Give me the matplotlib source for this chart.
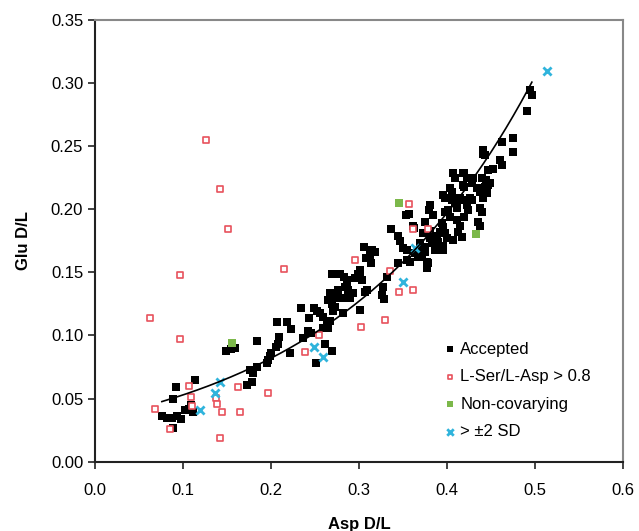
import numpy as np
import matplotlib
matplotlib.use('Agg')
import matplotlib.pyplot as plt

plt.rcParams['font.family'] = ['Liberation Sans', 'DejaVu Sans']

# Accepted samples (Asp D/L, Glu D/L)
acc_x = [0.076, 0.082, 0.0875, 0.093, 0.098, 0.089, 0.092, 0.089, 0.114, 0.102,
         0.107, 0.111, 0.109, 0.149, 0.1545, 0.159, 0.173, 0.178, 0.176, 0.1795,
         0.184, 0.1966, 0.199, 0.200, 0.1955, 0.2057, 0.208, 0.209, 0.207, 0.218,
         0.223, 0.2216, 0.184, 0.234, 0.243, 0.242, 0.2455, 0.249, 0.252, 0.2557,
         0.259, 0.259, 0.261, 0.251, 0.236, 0.269, 0.265, 0.2636, 0.267, 0.269,
         0.278, 0.283, 0.267, 0.265, 0.269, 0.2727, 0.276, 0.2727, 0.2705, 0.275,
         0.2807, 0.282, 0.284, 0.2864, 0.2875, 0.290, 0.293, 0.2955, 0.299, 0.301,
         0.309, 0.301, 0.3034, 0.3057, 0.315, 0.318, 0.3125, 0.308, 0.3136, 0.336,
         0.344, 0.3466, 0.353, 0.350, 0.3545, 0.344, 0.332, 0.327, 0.3545, 0.326,
         0.3284, 0.307, 0.357, 0.381, 0.3795, 0.384, 0.361, 0.375, 0.381, 0.384,
         0.3886, 0.390, 0.3955, 0.398, 0.401, 0.403, 0.394, 0.3955, 0.392, 0.398,
         0.400, 0.403, 0.4057, 0.407, 0.409, 0.420, 0.4227, 0.418, 0.4057, 0.409,
         0.411, 0.415, 0.417, 0.411, 0.415, 0.4125, 0.417, 0.407, 0.428, 0.4295,
         0.434, 0.4375, 0.440, 0.426, 0.428, 0.4227, 0.424, 0.420, 0.4375, 0.440,
         0.441, 0.445, 0.4466, 0.441, 0.435, 0.4375, 0.373, 0.381, 0.383, 0.390,
         0.3955, 0.369, 0.375, 0.494, 0.4966, 0.491, 0.475, 0.475, 0.4625, 0.441,
         0.443, 0.460, 0.4625, 0.452, 0.4466, 0.440, 0.443, 0.4455, 0.449, 0.418,
         0.420, 0.398, 0.392, 0.3955, 0.386, 0.375, 0.3716, 0.3784, 0.377, 0.3636,
         0.367, 0.3625, 0.358, 0.3716, 0.377, 0.301, 0.2864, 0.251, 0.269]
acc_y = [0.036, 0.035, 0.035, 0.036, 0.034, 0.027, 0.059, 0.050, 0.065, 0.041,
         0.042, 0.039, 0.045, 0.0876, 0.089, 0.090, 0.0607, 0.063, 0.0725, 0.070,
         0.075, 0.0805, 0.0836, 0.086, 0.078, 0.0907, 0.093, 0.0987, 0.1105, 0.1105,
         0.105, 0.086, 0.0955, 0.1216, 0.1137, 0.1034, 0.1018, 0.1216, 0.119, 0.1176,
         0.1145, 0.1058, 0.093, 0.078, 0.0979, 0.0876, 0.1058, 0.1105, 0.1113, 0.1485,
         0.149, 0.146, 0.1335, 0.128, 0.1248, 0.1295, 0.1358, 0.1224, 0.119, 0.1335,
         0.130, 0.1176, 0.138, 0.141, 0.1358, 0.130, 0.1335, 0.1453, 0.149, 0.120,
         0.1358, 0.146, 0.1437, 0.170, 0.1675, 0.166, 0.1635, 0.161, 0.157, 0.184,
         0.1786, 0.1746, 0.195, 0.169, 0.1675, 0.157, 0.146, 0.138, 0.1596, 0.132,
         0.129, 0.134, 0.196, 0.203, 0.199, 0.195, 0.187, 0.190, 0.183, 0.179,
         0.178, 0.174, 0.211, 0.1975, 0.199, 0.1936, 0.189, 0.1857, 0.1817, 0.181,
         0.177, 0.2165, 0.2134, 0.2284, 0.225, 0.2284, 0.225, 0.219, 0.207, 0.2046,
         0.2006, 0.209, 0.207, 0.191, 0.187, 0.1817, 0.178, 0.1754, 0.2204, 0.225,
         0.217, 0.2134, 0.2165, 0.209, 0.207, 0.203, 0.199, 0.1936, 0.2006, 0.1975,
         0.2085, 0.2227, 0.219, 0.244, 0.1896, 0.187, 0.181, 0.177, 0.173, 0.170,
         0.171, 0.173, 0.170, 0.294, 0.290, 0.278, 0.256, 0.245, 0.253, 0.2466,
         0.2426, 0.2386, 0.2347, 0.232, 0.2307, 0.225, 0.2173, 0.213, 0.2204, 0.2284,
         0.2173, 0.209, 0.1675, 0.168, 0.1675, 0.166, 0.162, 0.157, 0.153, 0.165,
         0.162, 0.185, 0.158, 0.1675, 0.158, 0.1517, 0.1437, 0.078, 0.0876]

# L-Ser/L-Asp > 0.8
ser_x = [0.0625, 0.0966, 0.0966, 0.126, 0.1417, 0.1508, 0.068, 0.085, 0.107, 0.109,
         0.110, 0.1375, 0.1386, 0.144, 0.142, 0.1625, 0.1648, 0.1966, 0.2148, 0.2955,
         0.302, 0.2386, 0.2545, 0.3295, 0.357, 0.361, 0.378, 0.335, 0.345, 0.361]
ser_y = [0.1135, 0.148, 0.0968, 0.255, 0.216, 0.184, 0.0417, 0.0259, 0.060, 0.0512,
         0.0441, 0.0504, 0.0457, 0.0393, 0.0188, 0.0591, 0.0393, 0.0544, 0.1524, 0.160,
         0.107, 0.0868, 0.1002, 0.112, 0.204, 0.184, 0.184, 0.151, 0.134, 0.136]

# Non-covarying
nc_x = [0.1557, 0.345, 0.433]
nc_y = [0.0939, 0.2045, 0.180]

# > +-2 SD
sd_x = [0.119, 0.136, 0.142, 0.249, 0.259, 0.3636, 0.350, 0.5136]
sd_y = [0.041, 0.0544, 0.063, 0.0907, 0.0828, 0.169, 0.142, 0.309]

ax_x = np.array(acc_x)
ax_y = np.array(acc_y)

fig = plt.figure(figsize=(6.39, 5.31), dpi=100, facecolor='white')
ax = fig.add_axes([0.1487, 0.1305, 0.826, 0.8324])

ax.scatter(acc_x, acc_y, s=28, marker='s', c='black', linewidths=0, label='Accepted', zorder=3)
ax.scatter(ser_x, ser_y, s=20, marker='s', facecolors='white', edgecolors='#e8525c',
           linewidths=1.2, label='L-Ser/L-Asp > 0.8', zorder=3)
ax.scatter(nc_x, nc_y, s=26, marker='s', c='#7cb84a', linewidths=0, label='Non-covarying', zorder=3)
ax.scatter(sd_x, sd_y, s=34, marker='x', c='#30b4dc', linewidths=2.0, label='> \u00b12 SD', zorder=4)

# exponential trendline fitted to accepted points
b, a = np.polyfit(ax_x, np.log(ax_y), 1)
xx = np.linspace(ax_x.min(), ax_x.max(), 200)
ax.plot(xx, np.exp(a) * np.exp(b * xx), color='black', lw=1.2, zorder=5)

ax.set_xlim(0, 0.6)
ax.set_ylim(0, 0.35)
ax.set_xticks(np.arange(0, 0.61, 0.1))
ax.set_yticks(np.arange(0, 0.351, 0.05))
ax.xaxis.set_major_formatter(matplotlib.ticker.FormatStrFormatter('%.1f'))
ax.yaxis.set_major_formatter(matplotlib.ticker.FormatStrFormatter('%.2f'))
ax.tick_params(labelsize=12, direction='out', length=5, width=1.2, color='#222222')
ax.tick_params(axis='x', pad=10)

for s in ['left', 'bottom']:
    ax.spines[s].set_color('#222222')
    ax.spines[s].set_linewidth(1.5)
for s in ['top', 'right']:
    ax.spines[s].set_color('#888888')
    ax.spines[s].set_linewidth(1.5)

ax.set_xlabel('Asp D/L', fontsize=12, fontweight='bold', labelpad=14)
ax.set_ylabel('Glu D/L', fontsize=12, fontweight='bold', labelpad=14)

ax.legend(loc='lower right', bbox_to_anchor=(0.968, 0.017), frameon=False, fontsize=12,
          handlelength=0.6, handletextpad=0.3, labelspacing=0.75, markerscale=0.8)

fig.savefig('out.png', dpi=100)
